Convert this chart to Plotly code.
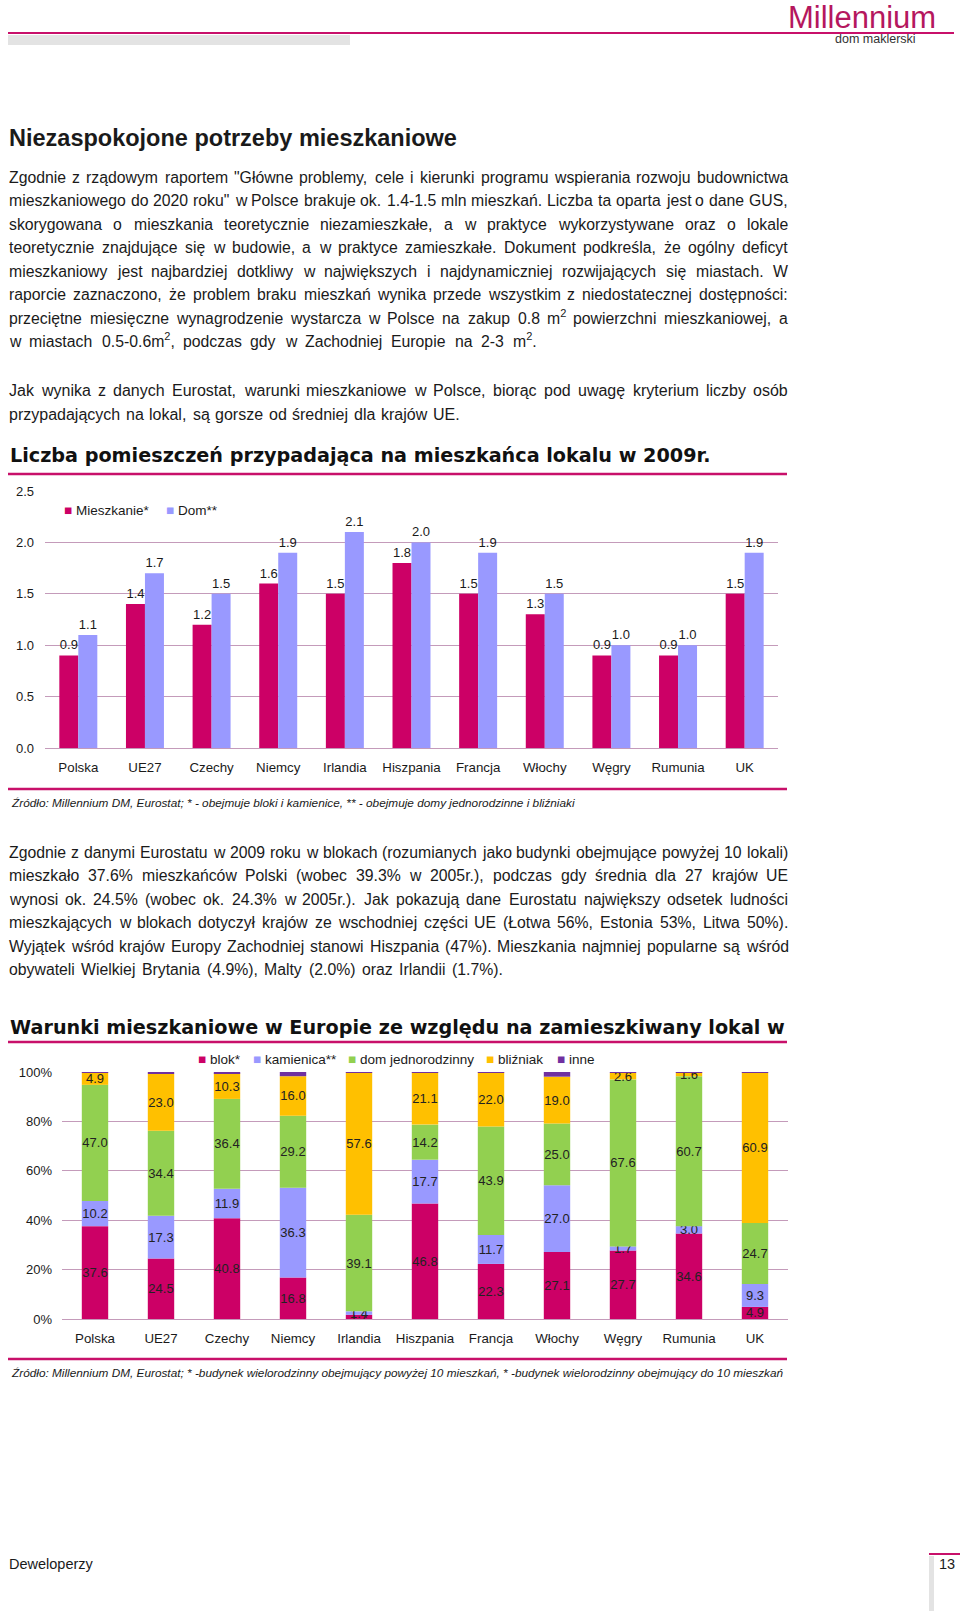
import plotly.graph_objects as go
from plotly.subplots import make_subplots

W, H = 960, 1611
FONT = "Liberation Sans, Arial, sans-serif"
HEAVY = "DejaVu Sans, Arial Black, sans-serif"
PINK = "#C8106A"
GRID = "#C49BBA"
INK = "#1a1a1a"

# chart 1: rooms per person, 2009
countries = ["Polska", "UE27", "Czechy", "Niemcy", "Irlandia", "Hiszpania",
             "Francja", "Włochy", "Węgry", "Rumunia", "UK"]
rooms_flat = [0.9, 1.4, 1.2, 1.6, 1.5, 1.8, 1.5, 1.3, 0.9, 0.9, 1.5]
rooms_house = [1.1, 1.7, 1.5, 1.9, 2.1, 2.0, 1.9, 1.5, 1.0, 1.0, 1.9]
rooms_names = ["Mieszkanie*", "Dom**"]
rooms_colors = ["#CC0066", "#9999FF"]

# chart 2: share of population by dwelling type (%)
blok = [37.6, 24.5, 40.8, 16.8, 1.7, 46.8, 22.3, 27.1, 27.7, 34.6, 4.9]
kamienica = [10.2, 17.3, 11.9, 36.3, 1.4, 17.7, 11.7, 27.0, 1.7, 3.0, 9.3]
dom_jednorodzinny = [47.0, 34.4, 36.4, 29.2, 39.1, 14.2, 43.9, 25.0, 67.6, 60.7, 24.7]
blizniak = [4.9, 23.0, 10.3, 16.0, 57.6, 21.1, 22.0, 19.0, 2.6, 1.6, 60.9]
inne = [0.3, 0.8, 0.6, 1.7, 0.2, 0.2, 0.1, 1.9, 0.4, 0.1, 0.2]

stack_names = ["blok*", "kamienica**", "dom jednorodzinny", "bliźniak", "inne"]
stack_colors = ["#CC0066", "#9999FF", "#92D050", "#FFC000", "#7030A0"]

title_main = "Niezaspokojone potrzeby mieszkaniowe"
chart1_title = "Liczba pomieszczeń przypadająca na mieszkańca lokalu w 2009r."
chart2_title = "Warunki mieszkaniowe w Europie ze względu na zamieszkiwany lokal w"
chart1_source = ("Źródło: Millennium DM, Eurostat; * - obejmuje bloki i kamienice, "
                 "** - obejmuje domy jednorodzinne i bliźniaki")
chart2_source = ("Źródło: Millennium DM, Eurostat; * -budynek wielorodzinny obejmujący "
                 "powyżej 10 mieszkań, * -budynek wielorodzinny obejmujący do 10 mieszkań")

para1 = [
    'Zgodnie z rządowym raportem "Główne problemy, cele i kierunki programu wspierania rozwoju budownictwa',
    'mieszkaniowego do 2020 roku" w Polsce brakuje ok. 1.4-1.5 mln mieszkań. Liczba ta oparta jest o dane GUS,',
    "skorygowana o mieszkania teoretycznie niezamieszkałe, a w praktyce wykorzystywane oraz o lokale",
    "teoretycznie znajdujące się w budowie, a w praktyce zamieszkałe. Dokument podkreśla, że ogólny deficyt",
    "mieszkaniowy jest najbardziej dotkliwy w największych i najdynamiczniej rozwijających się miastach. W",
    "raporcie zaznaczono, że problem braku mieszkań wynika przede wszystkim z niedostatecznej dostępności:",
    "przeciętne miesięczne wynagrodzenie wystarcza w Polsce na zakup 0.8 m<sup>2</sup> powierzchni mieszkaniowej, a",
    "w miastach 0.5-0.6m<sup>2</sup>, podczas gdy w Zachodniej Europie na 2-3 m<sup>2</sup>.",
]
para2 = [
    "Jak wynika z danych Eurostat, warunki mieszkaniowe w Polsce, biorąc pod uwagę kryterium liczby osób",
    "przypadających na lokal, są gorsze od średniej dla krajów UE.",
]
para3 = [
    "Zgodnie z danymi Eurostatu w 2009 roku w blokach (rozumianych jako budynki obejmujące powyżej 10 lokali)",
    "mieszkało 37.6% mieszkańców Polski (wobec 39.3% w 2005r.), podczas gdy średnia dla 27 krajów UE",
    "wynosi ok. 24.5% (wobec ok. 24.3% w 2005r.). Jak pokazują dane Eurostatu największy odsetek ludności",
    "mieszkających w blokach dotyczył krajów ze wschodniej części UE (Łotwa 56%, Estonia 53%, Litwa 50%).",
    "Wyjątek wśród krajów Europy Zachodniej stanowi Hiszpania (47%). Mieszkania najmniej popularne są wśród",
    "obywateli Wielkiej Brytania (4.9%), Malty (2.0%) oraz Irlandii (1.7%).",
]

# Arial / Liberation Sans advance widths (1/1000 em), used to justify lines
ARIAL = {" ": 278, '"': 355, "%": 889, "(": 333, ")": 333, "*": 389, ",": 278,
         "-": 333, ".": 278, ":": 278, ";": 278, "²": 333,
         "f": 278, "i": 222, "j": 222, "l": 222, "ł": 222, "m": 833, "r": 333,
         "t": 278, "w": 722, "c": 500, "ć": 500, "k": 500, "s": 500, "ś": 500,
         "v": 500, "x": 500, "y": 500, "z": 500, "ż": 500, "ź": 500,
         "A": 667, "B": 667, "C": 722, "D": 722, "E": 667, "F": 611, "G": 778,
         "H": 722, "I": 278, "J": 500, "K": 667, "L": 556, "Ł": 556, "M": 833,
         "N": 722, "O": 778, "P": 667, "R": 722, "S": 667, "T": 611, "U": 722,
         "W": 944, "Z": 611}


def px(x):
    return x / W


def py(y):
    return 1 - y / H


def text_width(s, size):
    s = s.replace("<sup>2</sup>", "²")
    return sum(ARIAL.get(c, 556) for c in s) * size / 1000


def label(text, x, y, size, family=FONT, color=INK, anchor="left", yshift=0):
    return dict(text=text, x=px(x), y=py(y), xref="paper", yref="paper",
                xanchor=anchor, yanchor="middle", showarrow=False, borderpad=0,
                yshift=yshift, font=dict(size=size, family=family, color=color))


def paragraph(lines, y0, step, size, last_end, left=8, right=787):
    # justified lines: each word placed on its own, the last line a bit looser
    out = []
    for i, line in enumerate(lines):
        y = y0 + i * step
        end = last_end if i == len(lines) - 1 else right
        words = line.split(" ")
        widths = [text_width(w, size) for w in words]
        gap = (end - left - sum(widths)) / (len(words) - 1)
        x = left
        for w, wd in zip(words, widths):
            # a superscript makes the box taller, lift it back onto the line
            out.append(label(w, x, y, size, yshift=1.5 if "<sup>" in w else 0))
            x += wd + gap
    return out


def legend_entry(name, color, x, y):
    return label(f'<span style="color:{color}">■</span> {name}', x, y, 13.5)


fig = make_subplots(rows=2, cols=1)

# chart 1 - grouped bars
for name, vals, color in zip(rooms_names, [rooms_flat, rooms_house], rooms_colors):
    fig.add_trace(go.Bar(
        x=countries, y=vals, name=name, marker_color=color, marker_line_width=0,
        text=[f"{v:.1f}" for v in vals], textposition="outside", cliponaxis=False,
        textfont=dict(size=13, family=FONT, color=INK), constraintext="none",
        showlegend=False,
    ), row=1, col=1)

# chart 2 - stacked bars, drawn with a running base
base = [0.0] * len(countries)
for name, vals, color in zip(stack_names,
                             [blok, kamienica, dom_jednorodzinny, blizniak, inne],
                             stack_colors):
    fig.add_trace(go.Bar(
        x=countries, y=vals, base=list(base), name=name, marker_color=color,
        marker_line_width=0, width=0.4, offsetgroup="stack",
        text=None if name == "inne" else [f"{v:.1f}" for v in vals],
        textposition="inside", insidetextanchor="middle", textangle=0,
        constraintext="none",
        insidetextfont=dict(size=13, family=FONT, color="#222222"),
        showlegend=False,
    ), row=2, col=1)
    base = [b + v for b, v in zip(base, vals)]

axis_font = dict(size=13.3, family=FONT, color=INK)
common_x = dict(showgrid=False, showline=False, ticks="", tickfont=axis_font,
                ticklabelstandoff=10, automargin=False, fixedrange=True)
common_y = dict(gridcolor=GRID, gridwidth=1, zeroline=True, zerolinecolor=GRID,
                zerolinewidth=1, showline=False, ticks="", automargin=False,
                fixedrange=True, tickfont=dict(size=13, family=FONT, color=INK))
fig.update_xaxes(row=1, col=1, domain=[px(45), px(778)], **common_x)
fig.update_yaxes(row=1, col=1, domain=[py(748), py(491)], range=[0, 2.5], dtick=0.5,
                 tickformat=".1f", ticklabelstandoff=10, **common_y)
fig.update_xaxes(row=2, col=1, domain=[px(62), px(788)], **common_x)
fig.update_yaxes(row=2, col=1, domain=[py(1319), py(1072)], range=[0, 100], dtick=20,
                 ticksuffix="%", ticklabelstandoff=9, **common_y)

annotations = [
    label("Millennium", 937, 17, 31, FONT, "#B5175E", anchor="right"),
    label("dom maklerski", 917, 39, 12.5, FONT, "#333333", anchor="right"),
    label(f"<b>{title_main}</b>", 8, 138, 23.5),
    label(f"<b>{chart1_title}</b>", 9, 456, 19.2, HEAVY, "#111111"),
    label(f"<i>{chart1_source}</i>", 10, 803, 11.8),
    label(f"<b>{chart2_title}</b>", 9, 1027, 19.2, HEAVY, "#111111"),
    label(f"<i>{chart2_source}</i>", 10, 1373, 11.8),
    label("Deweloperzy", 8, 1564, 14.5),
    label("13", 956, 1564, 14.5, anchor="right"),
]
for name, color, lx in zip(rooms_names, rooms_colors, [63, 165]):
    annotations.append(legend_entry(name, color, lx, 510))
for name, color, lx in zip(stack_names, stack_colors, [197, 252, 347, 485, 556]):
    annotations.append(legend_entry(name, color, lx, 1059))
annotations += paragraph(para1, 177.5, 23.45, 15.8, last_end=535)
annotations += paragraph(para2, 390.6, 23.6, 16, last_end=459)
annotations += paragraph(para3, 852.5, 23.4, 15.8, last_end=502)

shapes = [
    dict(type="line", xref="paper", yref="paper", x0=px(8), x1=px(954), y0=py(33), y1=py(33),
         line=dict(color=PINK, width=2)),
    dict(type="rect", xref="paper", yref="paper", x0=px(8), x1=px(350), y0=py(35), y1=py(45),
         fillcolor="#E3E3E3", line_width=0),
    dict(type="line", xref="paper", yref="paper", x0=px(8), x1=px(787), y0=py(474), y1=py(474),
         line=dict(color=PINK, width=2.5)),
    dict(type="line", xref="paper", yref="paper", x0=px(8), x1=px(787), y0=py(789), y1=py(789),
         line=dict(color=PINK, width=2.5)),
    dict(type="line", xref="paper", yref="paper", x0=px(8), x1=px(787), y0=py(1042), y1=py(1042),
         line=dict(color=PINK, width=2.5)),
    dict(type="line", xref="paper", yref="paper", x0=px(8), x1=px(787), y0=py(1359), y1=py(1359),
         line=dict(color=PINK, width=2.5)),
    dict(type="line", xref="paper", yref="paper", x0=px(929), x1=px(960), y0=py(1554), y1=py(1554),
         line=dict(color=PINK, width=2)),
    dict(type="rect", xref="paper", yref="paper", x0=px(929), x1=px(934), y0=py(1556), y1=py(1611),
         fillcolor="#E3E3E3", line_width=0),
]

fig.update_layout(
    width=W, height=H, autosize=False,
    margin=dict(l=0, r=0, t=0, b=0, pad=0, autoexpand=False),
    paper_bgcolor="white", plot_bgcolor="white",
    barmode="group", bargap=0.43, bargroupgap=0,
    uniformtext=dict(mode="show", minsize=13),
    font=dict(family=FONT, size=13, color=INK),
    annotations=annotations, shapes=shapes,
    showlegend=False,
)

# the page body has a default 8px margin; drop it so the figure fills the window
fig.write_html("out.html", config={"displayModeBar": False},
               post_script="document.body.style.margin='0';document.body.style.overflow='hidden';")
